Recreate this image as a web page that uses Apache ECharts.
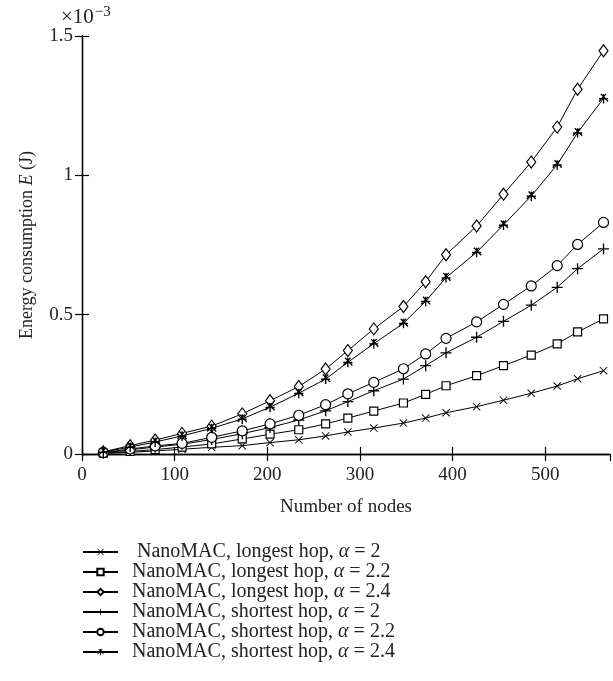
<!DOCTYPE html>
<html>
<head>
<meta charset="utf-8">
<script src="https://cdn.jsdelivr.net/npm/echarts@6/dist/echarts.min.js"></script>
<style>
  html, body { margin: 0; padding: 0; background: #fff; }
  #chart { width: 613px; height: 681px; }
</style>
</head>
<body>
<div id="chart"></div>
<script>
// Number of nodes at which energy was evaluated
const nodes = [23, 52, 79, 108, 140, 173, 203, 234, 263, 287, 315, 347, 371, 393, 426, 455, 485, 513, 535, 563];

// Energy consumption, in units of 1e-3 J
const longest20  = [0.002, 0.006, 0.011, 0.017, 0.024, 0.030, 0.041, 0.051, 0.065, 0.079, 0.093, 0.111, 0.129, 0.148, 0.170, 0.193, 0.218, 0.244, 0.270, 0.299];
const longest22  = [0.003, 0.009, 0.016, 0.025, 0.036, 0.054, 0.071, 0.087, 0.108, 0.129, 0.154, 0.183, 0.214, 0.245, 0.281, 0.317, 0.355, 0.395, 0.438, 0.485];
const longest24  = [0.008, 0.030, 0.050, 0.074, 0.100, 0.144, 0.191, 0.242, 0.305, 0.371, 0.449, 0.529, 0.618, 0.715, 0.818, 0.932, 1.048, 1.173, 1.309, 1.447];
const shortest20 = [0.004, 0.015, 0.025, 0.035, 0.052, 0.073, 0.095, 0.122, 0.155, 0.188, 0.227, 0.269, 0.317, 0.363, 0.419, 0.476, 0.534, 0.598, 0.665, 0.736];
const shortest22 = [0.005, 0.018, 0.029, 0.038, 0.060, 0.083, 0.108, 0.139, 0.177, 0.216, 0.257, 0.306, 0.359, 0.415, 0.474, 0.537, 0.603, 0.676, 0.752, 0.831];
const shortest24 = [0.007, 0.025, 0.043, 0.065, 0.092, 0.126, 0.168, 0.218, 0.269, 0.329, 0.396, 0.469, 0.548, 0.633, 0.724, 0.822, 0.926, 1.038, 1.153, 1.276];

const seriesNames = [
  'NanoMAC, longest hop, α = 2',
  'NanoMAC, longest hop, α = 2.2',
  'NanoMAC, longest hop, α = 2.4',
  'NanoMAC, shortest hop, α = 2',
  'NanoMAC, shortest hop, α = 2.2',
  'NanoMAC, shortest hop, α = 2.4'
];
const seriesValues = [longest20, longest22, longest24, shortest20, shortest22, shortest24];

const xTicks = { min: 0, max: 570, interval: 100 };
const yTicks = { min: 0, max: 1.5, interval: 0.5 };

// Stroke-like marker shapes built as filled paths
const PLUS = 'path://M4.4,0H5.6V4.4H10V5.6H5.6V10H4.4V5.6H0V4.4H4.4Z';
const CROSS = 'path://M0,0.8L0.8,0L10,9.2L9.2,10Z M9.2,0L10,0.8L0.8,10L0,9.2Z';
const STAR = 'path://M4.25,0H5.75V4.25H10V5.75H5.75V10H4.25V5.75H0V4.25H4.25Z M1.5,0.5L2.5,-0.5L10.5,7.5L9.5,8.5Z M7.5,-0.5L8.5,0.5L0.5,8.5L-0.5,7.5Z';

const markers = [
  { symbol: CROSS, size: 8, fill: '#000', border: 0 },
  { symbol: 'rect', size: 8, fill: '#fff', border: 1.2 },
  { symbol: 'diamond', size: [9, 12], fill: '#fff', border: 1.2 },
  { symbol: PLUS, size: 11, fill: '#000', border: 0 },
  { symbol: 'circle', size: 10, fill: '#fff', border: 1.2 },
  { symbol: STAR, size: 10, fill: '#000', border: 0 }
];

const FONT = 'Liberation Serif';

const series = seriesNames.map((name, i) => ({
  name: name,
  type: 'line',
  data: nodes.map((n, k) => [n, seriesValues[i][k]]),
  symbol: markers[i].symbol,
  symbolSize: markers[i].size,
  showAllSymbol: true,
  lineStyle: { color: '#000', width: 1 },
  itemStyle: { color: markers[i].fill, borderColor: '#000', borderWidth: markers[i].border },
  emphasis: { disabled: true },
  animation: false,
  z: 3 + i
}));

const chart = echarts.init(document.getElementById('chart'), null, { renderer: 'canvas' });

const axisCommon = {
  axisLine: { show: true, lineStyle: { color: '#000', width: 1.3 } },
  axisTick: { show: true, inside: true, length: 7, lineStyle: { color: '#000', width: 1.2 } },
  splitLine: { show: false }
};

chart.setOption({
  backgroundColor: '#fff',
  animation: false,
  textStyle: { fontFamily: FONT },
  grid: { left: 82, top: 36, right: 3, bottom: 227, containLabel: false },
  xAxis: [
    Object.assign({
      type: 'value', min: xTicks.min, max: xTicks.max, interval: xTicks.interval,
      position: 'bottom',
      name: 'Number of nodes', nameLocation: 'middle', nameGap: 44,
      nameTextStyle: { fontFamily: FONT, fontSize: 19, color: '#222' },
      axisLabel: { fontFamily: FONT, fontSize: 19, color: '#222', margin: 12,
        showMaxLabel: false }
    }, axisCommon),
    Object.assign({
      type: 'value', min: xTicks.min, max: xTicks.max, interval: xTicks.interval,
      position: 'top', axisLabel: { show: false }
    }, axisCommon)
  ],
  yAxis: [
    Object.assign({
      type: 'value', min: yTicks.min, max: yTicks.max, interval: yTicks.interval,
      position: 'left',
      name: 'Energy consumption {i|E} (J)', nameLocation: 'middle', nameGap: 46, nameRotate: 90,
      nameTextStyle: { fontFamily: FONT, fontSize: 18, color: '#222',
        rich: { i: { fontFamily: FONT, fontSize: 18, fontStyle: 'italic', color: '#222' } } },
      axisLabel: { fontFamily: FONT, fontSize: 19, color: '#222', margin: 9,
        formatter: v => String(v) }
    }, axisCommon),
    Object.assign({
      type: 'value', min: yTicks.min, max: yTicks.max, interval: yTicks.interval,
      position: 'right', axisLabel: { show: false }
    }, axisCommon)
  ],
  legend: {
    orient: 'vertical',
    left: 77,
    top: 537,
    padding: 5,
    itemWidth: 35,
    itemHeight: 8,
    itemGap: 0,
    selectedMode: false,
    data: seriesNames,
    formatter: name => (name === seriesNames[0] ? ' ' : '') + name.replace('α', '{i|α}'),
    textStyle: {
      fontFamily: FONT, fontSize: 20, color: '#222', lineHeight: 20,
      padding: [0, 0, 0, 9],
      rich: { i: { fontFamily: FONT, fontSize: 20, fontStyle: 'italic', color: '#222', lineHeight: 20 } }
    }
  },
  graphic: [{
    type: 'text',
    left: 61,
    top: 5,
    style: {
      text: '×10{s|−3}',
      font: '21px "Liberation Serif"',
      fill: '#222',
      rich: { s: { font: '15px "Liberation Serif"', fill: '#222', verticalAlign: 'top', padding: [0, 0, 10, 1] } }
    }
  }],
  series: series
});
</script>
</body>
</html>
